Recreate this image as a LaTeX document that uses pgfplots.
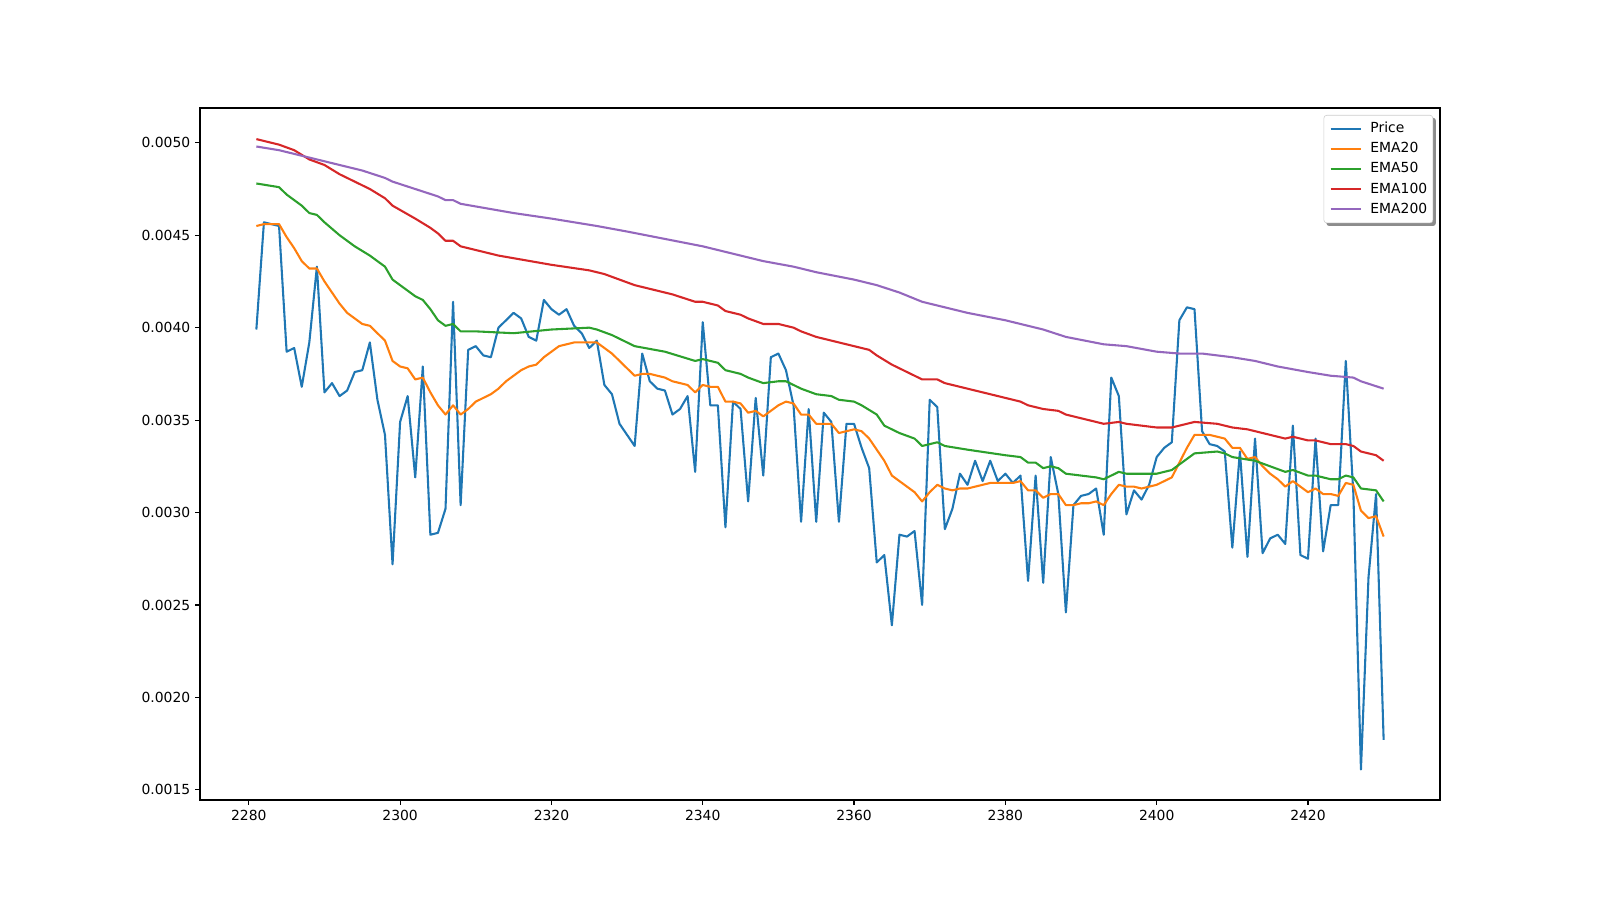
\documentclass[border=0pt]{standalone}
\usepackage{fontspec}
\setmainfont{DejaVu Sans}
\usepackage{pgfplots}
\usepackage{pgfplotstable}
\pgfplotsset{compat=1.18}
\usetikzlibrary{backgrounds}
\definecolor{C0}{HTML}{1F77B4}
\definecolor{C1}{HTML}{FF7F0E}
\definecolor{C2}{HTML}{2CA02C}
\definecolor{C3}{HTML}{D62728}
\definecolor{C4}{HTML}{9467BD}

\pgfplotstableread{
t p
2281 0.00399
2282 0.00457
2283 0.00456
2284 0.00455
2285 0.00387
2286 0.00389
2287 0.00368
2288 0.00392
2289 0.00433
2290 0.00365
2291 0.00370
2292 0.00363
2293 0.00366
2294 0.00376
2295 0.00377
2296 0.00392
2297 0.00361
2298 0.00342
2299 0.00272
2300 0.00349
2301 0.00363
2302 0.00319
2303 0.00379
2304 0.00288
2305 0.00289
2306 0.00302
2307 0.00414
2308 0.00304
2309 0.00388
2310 0.00390
2311 0.00385
2312 0.00384
2313 0.00400
2314 0.00404
2315 0.00408
2316 0.00405
2317 0.00395
2318 0.00393
2319 0.00415
2320 0.00410
2321 0.00407
2322 0.00410
2323 0.00401
2324 0.00397
2325 0.00389
2326 0.00393
2327 0.00369
2328 0.00364
2329 0.00348
2330 0.00342
2331 0.00336
2332 0.00386
2333 0.00371
2334 0.00367
2335 0.00366
2336 0.00353
2337 0.00356
2338 0.00363
2339 0.00322
2340 0.00403
2341 0.00358
2342 0.00358
2343 0.00292
2344 0.00360
2345 0.00356
2346 0.00306
2347 0.00362
2348 0.00320
2349 0.00384
2350 0.00386
2351 0.00377
2352 0.00358
2353 0.00295
2354 0.00356
2355 0.00295
2356 0.00354
2357 0.00349
2358 0.00295
2359 0.00348
2360 0.00348
2361 0.00335
2362 0.00324
2363 0.00273
2364 0.00277
2365 0.00239
2366 0.00288
2367 0.00287
2368 0.00290
2369 0.00250
2370 0.00361
2371 0.00357
2372 0.00291
2373 0.00302
2374 0.00321
2375 0.00315
2376 0.00328
2377 0.00317
2378 0.00328
2379 0.00317
2380 0.00321
2381 0.00316
2382 0.00320
2383 0.00263
2384 0.00320
2385 0.00262
2386 0.00330
2387 0.00310
2388 0.00246
2389 0.00304
2390 0.00309
2391 0.00310
2392 0.00313
2393 0.00288
2394 0.00373
2395 0.00363
2396 0.00299
2397 0.00312
2398 0.00307
2399 0.00315
2400 0.00330
2401 0.00335
2402 0.00338
2403 0.00404
2404 0.00411
2405 0.00410
2406 0.00344
2407 0.00337
2408 0.00336
2409 0.00333
2410 0.00281
2411 0.00333
2412 0.00276
2413 0.00340
2414 0.00278
2415 0.00286
2416 0.00288
2417 0.00283
2418 0.00347
2419 0.00277
2420 0.00275
2421 0.00340
2422 0.00279
2423 0.00304
2424 0.00304
2425 0.00382
2426 0.00310
2427 0.00161
2428 0.00265
2429 0.00310
2430 0.00177
}\price

\pgfplotstableread{
t e
2281 0.00455
2282 0.00456
2283 0.00456
2284 0.00456
2285 0.00449
2286 0.00443
2287 0.00436
2288 0.00432
2289 0.00432
2290 0.00425
2291 0.00419
2292 0.00413
2293 0.00408
2294 0.00405
2295 0.00402
2296 0.00401
2297 0.00397
2298 0.00393
2299 0.00382
2300 0.00379
2301 0.00378
2302 0.00372
2303 0.00373
2304 0.00365
2305 0.00358
2306 0.00353
2307 0.00358
2308 0.00353
2309 0.00356
2310 0.00360
2311 0.00362
2312 0.00364
2313 0.00367
2314 0.00371
2315 0.00374
2316 0.00377
2317 0.00379
2318 0.00380
2319 0.00384
2320 0.00387
2321 0.00390
2322 0.00391
2323 0.00392
2324 0.00392
2325 0.00392
2326 0.00392
2327 0.00389
2328 0.00386
2329 0.00382
2330 0.00378
2331 0.00374
2332 0.00375
2333 0.00375
2334 0.00374
2335 0.00373
2336 0.00371
2337 0.00370
2338 0.00369
2339 0.00365
2340 0.00369
2341 0.00368
2342 0.00368
2343 0.00360
2344 0.00360
2345 0.00359
2346 0.00354
2347 0.00355
2348 0.00352
2349 0.00355
2350 0.00358
2351 0.00360
2352 0.00359
2353 0.00353
2354 0.00353
2355 0.00348
2356 0.00348
2357 0.00348
2358 0.00343
2359 0.00344
2360 0.00345
2361 0.00344
2362 0.00340
2363 0.00334
2364 0.00328
2365 0.00320
2366 0.00317
2367 0.00314
2368 0.00311
2369 0.00306
2370 0.00311
2371 0.00315
2372 0.00313
2373 0.00312
2374 0.00313
2375 0.00313
2376 0.00314
2377 0.00315
2378 0.00316
2379 0.00316
2380 0.00316
2381 0.00316
2382 0.00317
2383 0.00312
2384 0.00312
2385 0.00308
2386 0.00310
2387 0.00310
2388 0.00304
2389 0.00304
2390 0.00305
2391 0.00305
2392 0.00306
2393 0.00304
2394 0.00310
2395 0.00315
2396 0.00314
2397 0.00314
2398 0.00313
2399 0.00314
2400 0.00315
2401 0.00317
2402 0.00319
2403 0.00327
2404 0.00335
2405 0.00342
2406 0.00342
2407 0.00342
2408 0.00341
2409 0.00340
2410 0.00335
2411 0.00335
2412 0.00329
2413 0.00330
2414 0.00325
2415 0.00321
2416 0.00318
2417 0.00314
2418 0.00317
2419 0.00314
2420 0.00311
2421 0.00313
2422 0.00310
2423 0.00310
2424 0.00309
2425 0.00316
2426 0.00315
2427 0.00301
2428 0.00297
2429 0.00298
2430 0.00287
}\emaA

\pgfplotstableread{
t e
2281 0.00478
2284 0.00476
2285 0.00472
2287 0.00466
2288 0.00462
2289 0.00461
2290 0.00457
2292 0.00450
2294 0.00444
2296 0.00439
2298 0.00433
2299 0.00426
2301 0.00420
2302 0.00417
2303 0.00415
2304 0.00410
2305 0.00404
2306 0.00401
2307 0.00402
2308 0.00398
2310 0.00398
2315 0.00397
2320 0.00399
2325 0.00400
2326 0.00399
2328 0.00396
2330 0.00392
2331 0.00390
2335 0.00387
2339 0.00382
2340 0.00383
2342 0.00381
2343 0.00377
2345 0.00375
2346 0.00373
2348 0.00370
2350 0.00371
2351 0.00371
2352 0.00369
2353 0.00367
2355 0.00364
2357 0.00363
2358 0.00361
2360 0.00360
2361 0.00358
2363 0.00353
2364 0.00347
2366 0.00343
2368 0.00340
2369 0.00336
2371 0.00338
2372 0.00336
2375 0.00334
2380 0.00331
2382 0.00330
2383 0.00327
2384 0.00327
2385 0.00324
2386 0.00325
2387 0.00324
2388 0.00321
2392 0.00319
2393 0.00318
2394 0.00320
2395 0.00322
2396 0.00321
2400 0.00321
2402 0.00323
2403 0.00326
2404 0.00329
2405 0.00332
2408 0.00333
2409 0.00332
2410 0.00330
2413 0.00328
2415 0.00325
2417 0.00322
2418 0.00323
2420 0.00320
2421 0.00320
2423 0.00318
2424 0.00318
2425 0.00320
2426 0.00319
2427 0.00313
2429 0.00312
2430 0.00306
}\emaB

\pgfplotstableread{
t e
2281 0.00502
2284 0.00499
2286 0.00496
2288 0.00491
2290 0.00488
2292 0.00483
2294 0.00479
2296 0.00475
2298 0.00470
2299 0.00466
2302 0.00459
2304 0.00454
2305 0.00451
2306 0.00447
2307 0.00447
2308 0.00444
2310 0.00442
2313 0.00439
2320 0.00434
2325 0.00431
2327 0.00429
2329 0.00426
2331 0.00423
2333 0.00421
2336 0.00418
2339 0.00414
2340 0.00414
2342 0.00412
2343 0.00409
2345 0.00407
2346 0.00405
2348 0.00402
2350 0.00402
2352 0.00400
2353 0.00398
2355 0.00395
2358 0.00392
2360 0.00390
2362 0.00388
2363 0.00385
2365 0.00380
2368 0.00374
2369 0.00372
2371 0.00372
2372 0.00370
2375 0.00367
2380 0.00362
2382 0.00360
2383 0.00358
2385 0.00356
2387 0.00355
2388 0.00353
2393 0.00348
2395 0.00349
2396 0.00348
2400 0.00346
2402 0.00346
2403 0.00347
2405 0.00349
2408 0.00348
2410 0.00346
2412 0.00345
2415 0.00342
2417 0.00340
2418 0.00341
2420 0.00339
2421 0.00339
2423 0.00337
2425 0.00337
2426 0.00336
2427 0.00333
2429 0.00331
2430 0.00328
}\emaC

\pgfplotstableread{
t e
2281 0.00498
2284 0.00496
2286 0.00494
2290 0.00490
2295 0.00485
2298 0.00481
2299 0.00479
2302 0.00475
2305 0.00471
2306 0.00469
2307 0.00469
2308 0.00467
2315 0.00462
2320 0.00459
2326 0.00455
2330 0.00452
2335 0.00448
2340 0.00444
2343 0.00441
2348 0.00436
2352 0.00433
2355 0.00430
2360 0.00426
2363 0.00423
2366 0.00419
2369 0.00414
2372 0.00411
2375 0.00408
2380 0.00404
2385 0.00399
2388 0.00395
2393 0.00391
2396 0.00390
2400 0.00387
2403 0.00386
2406 0.00386
2410 0.00384
2413 0.00382
2416 0.00379
2420 0.00376
2423 0.00374
2426 0.00373
2427 0.00371
2430 0.00367
}\emaD

\begin{document}
\begin{tikzpicture}
  % full figure canvas, 16in x 9in
  \path (0,0) rectangle (1152pt,648pt);
  \begin{axis}[
    at={(144pt,72pt)}, anchor=south west,
    scale only axis, width=892.8pt, height=498.2pt,
    xmin=2273.55, xmax=2437.45,
    ymin=0.001445, ymax=0.005188,
    xtick={2280,2300,...,2420},
    ytick={0.0015,0.0020,0.0025,0.0030,0.0035,0.0040,0.0045,0.0050},
    scaled y ticks=false,
    x tick label style={/pgf/number format/1000 sep={}},
    y tick label style={/pgf/number format/.cd,fixed,fixed zerofill,precision=4},
    /pgf/number format/assume math mode=true,
    tick label style={font=\fontsize{10}{12}\selectfont},
    tick align=outside, major tick length=3.5pt,
    xtick pos=bottom, ytick pos=left,
    every tick/.style={black, line width=0.8pt},
    axis line style={line width=0.8pt},
    legend cell align=left,
    legend image code/.code={
      \draw[#1, line width=1.5pt] (0pt,0pt) -- (22pt,0pt);
      \path (28pt,0pt);
    },
    legend style={
      name=leg,
      at={(1,1)}, anchor=north east, xshift=-5pt, yshift=-5pt,
      draw=black!20, fill=white, rounded corners=2pt,
      font=\fontsize{10}{12}\selectfont,
      row sep=5pt, inner xsep=4pt, inner ysep=5pt,
      nodes={inner sep=0pt, text height=7.5pt, text depth=2pt},
    },
    every axis plot/.append style={line width=1.5pt, line join=round},
  ]
    \addplot[C0, mark=none] table[x=t,y=p] {\price};
    \addplot[C1, mark=none] table[x=t,y=e] {\emaA};
    \addplot[C2, mark=none] table[x=t,y=e] {\emaB};
    \addplot[C3, mark=none] table[x=t,y=e] {\emaC};
    \addplot[C4, mark=none] table[x=t,y=e] {\emaD};
    \legend{Price,EMA20,EMA50,EMA100,EMA200}
  \end{axis}
  % legend shadow, as matplotlib's shadow=True
  \begin{scope}[on background layer]
    \fill[black!45, rounded corners=2pt]
      ([xshift=2pt,yshift=-2pt]leg.south west) rectangle ([xshift=2pt,yshift=-2pt]leg.north east);
  \end{scope}
\end{tikzpicture}
\end{document}
